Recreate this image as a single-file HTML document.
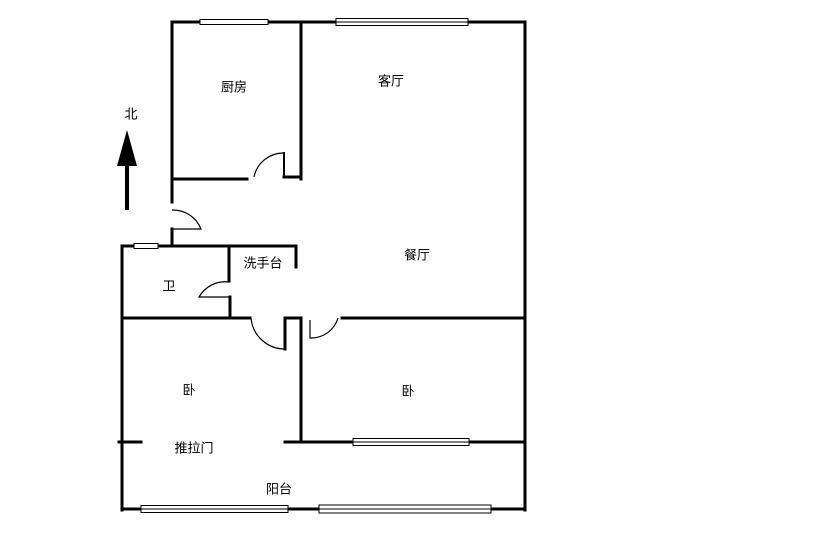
<!DOCTYPE html>
<html><head><meta charset="utf-8"><style>
html,body{margin:0;padding:0;background:#fff;}
svg{display:block}
text{font-family:"Liberation Sans","Noto Sans CJK SC",sans-serif;font-size:13px;fill:#000;text-anchor:middle;dominant-baseline:middle}
</style></head><body>
<svg width="814" height="534" viewBox="0 0 814 534" xmlns="http://www.w3.org/2000/svg">
<g stroke="#000" stroke-width="3" fill="none" stroke-linecap="square">
<line x1="172" y1="22" x2="525" y2="22"/>
<line x1="525" y1="22" x2="525" y2="510"/>
<line x1="172" y1="22" x2="172" y2="202"/>
<line x1="172" y1="229" x2="172" y2="246"/>
<line x1="301" y1="22" x2="301" y2="179"/>
<line x1="172" y1="179" x2="247" y2="179"/>
<line x1="284" y1="177" x2="301" y2="177"/>
<line x1="284" y1="153" x2="284" y2="177" stroke-width="2"/>
<line x1="122" y1="246" x2="296" y2="246"/>
<line x1="296" y1="246" x2="296" y2="267"/>
<line x1="229" y1="246" x2="229" y2="281"/>
<line x1="230" y1="297" x2="230" y2="317"/>
<line x1="122" y1="246" x2="122" y2="510"/>
<line x1="122" y1="318" x2="250" y2="318"/>
<line x1="285" y1="318" x2="301" y2="318"/>
<line x1="285" y1="318" x2="285" y2="349"/>
<line x1="301" y1="318" x2="301" y2="442"/>
<line x1="342" y1="318" x2="525" y2="318"/>
<line x1="119" y1="442" x2="141" y2="442"/>
<line x1="285" y1="442" x2="525" y2="442"/>
<line x1="122" y1="509" x2="525" y2="509"/>
<line x1="127" y1="160" x2="127" y2="208" stroke-width="4"/>
</g>
<polygon points="127,130 117,166 137,166" fill="#000"/>
<g stroke="#000" stroke-width="1.2" fill="none">
<path d="M284,153 A30,30 0 0 0 254,177"/>
<path d="M172,210 A30,30 0 0 1 201,229 L172,229"/>
<path d="M229,282 A30,30 0 0 0 199,297 L229,297"/>
<path d="M251,318 A34,34 0 0 0 285,349"/>
<path d="M310,320 L310,338 A28,28 0 0 0 338,318"/>
</g>
<g fill="#fff" stroke="#000" stroke-width="1">
<rect x="200" y="19.5" width="68" height="5"/>
<rect x="336" y="18.5" width="132" height="7"/><line x1="336" y1="22" x2="468" y2="22"/>
<rect x="134" y="243.5" width="24" height="5"/>
<rect x="353" y="438.5" width="116" height="7"/><line x1="353" y1="442" x2="469" y2="442"/>
<rect x="141" y="505.5" width="147" height="7"/><line x1="141" y1="509" x2="288" y2="509"/>
<rect x="319" y="505" width="172" height="8"/><line x1="319" y1="509" x2="491" y2="509"/>
</g>
<g transform="translate(0,2)">
<text x="234" y="86">厨房</text>
<text x="391" y="80">客厅</text>
<text x="131" y="113">北</text>
<text x="263" y="262">洗手台</text>
<text x="169" y="285">卫</text>
<text x="417" y="254">餐厅</text>
<text x="189" y="389">卧</text>
<text x="408" y="390">卧</text>
<text x="194" y="447">推拉门</text>
<text x="279" y="488">阳台</text>
</g>
</svg>
</body></html>
